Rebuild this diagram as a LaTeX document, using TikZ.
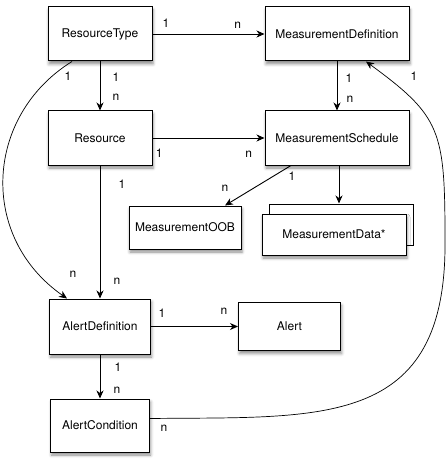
\documentclass[tikz,border=0pt]{standalone}
\usepackage{fontspec}
\setmainfont{TeX Gyre Heros}
\usetikzlibrary{arrows.meta,positioning,shadows,shadows.blur}
\tikzset{
  box/.style   = {draw=black, line width=1pt, fill=white, align=center,
                  inner sep=2pt, minimum height=54pt,
                  font=\fontsize{12}{14}\selectfont,
                  blur shadow={shadow xshift=1pt, shadow yshift=-3pt,
                               shadow blur radius=3pt, shadow opacity=45}},
  stack/.style = {copy shadow={shadow xshift=7pt, shadow yshift=10pt,
                  draw=black, line width=1pt, fill=white}},
  lab/.style   = {font=\fontsize{12}{14}\selectfont, inner sep=0pt},
  arr/.style   = {-{Stealth[length=8pt, width=7pt, inset=2.5pt]}, draw=black, line width=0.9pt},
  carr/.style  = {-{Stealth[length=8pt, width=7pt, inset=2.5pt]}, draw=black, line width=0.7pt},
}
\begin{document}
\begin{tikzpicture}
  \useasboundingbox (0,0) rectangle (447pt,-465pt);
  \node[box, minimum width=104pt] (rtype) at (100pt,-34pt) {ResourceType};
  \node[box, minimum width=144pt, right=112pt of rtype] (mdef) {MeasurementDefinition};
  \node[box, minimum width=104pt, below=49pt of rtype] (res) {Resource};
  \node[box, minimum width=144pt, right=112pt of res] (msched) {MeasurementSchedule};
  \node[box, minimum width=112pt, minimum height=43pt, below left=40pt and 23pt of msched.south west] (moob) {MeasurementOOB};
  \node[stack, box, minimum width=144pt, minimum height=41pt, below=48pt of msched, xshift=-3pt] (mdata) {MeasurementData*};
  \node[box, minimum width=101pt, minimum height=55pt, below=133pt of res] (adef) {AlertDefinition};
  \node[box, minimum width=102pt, minimum height=48pt, right=87pt of adef] (alert) {Alert};
  \node[box, minimum width=99pt, minimum height=53pt, below=44pt of adef] (acond) {AlertCondition};
  \coordinate (rbend) at (445pt,-240pt);
  \draw[arr] (rtype) -- (mdef)
    node[lab, pos=.12, yshift=11pt] {1}
    node[lab, pos=.76, yshift=9pt] {n};
  \draw[arr] (rtype) -- (res)
    node[lab, pos=.33, xshift=16pt] {1}
    node[lab, pos=.73, xshift=16pt] {n};
  \draw[arr] (res) -- (msched)
    node[lab, pos=.06, yshift=-15pt] {1}
    node[lab, pos=.86, yshift=-16pt] {n};
  \draw[arr] (mdef) -- (msched)
    node[lab, pos=.35, xshift=12pt] {1}
    node[lab, pos=.78, xshift=13pt] {n};
  \draw[arr] (res) -- (adef)
    node[lab, pos=.14, xshift=22pt] {1}
    node[lab, pos=.87, xshift=17pt] {n};
  \draw[arr] ([xshift=-46pt]msched.south) -- ([xshift=40pt]moob.north)
    node[lab, pos=0, xshift=1pt, yshift=-11pt] {1}
    node[lab, pos=1, yshift=17pt] {n};
  \draw[arr] ([xshift=2pt]msched.south) -- ([xshift=5pt, yshift=10pt]mdata.north);
  \draw[arr] (adef) -- (alert)
    node[lab, pos=.125, yshift=13pt] {1}
    node[lab, pos=.84, yshift=15pt] {n};
  \draw[arr] (adef) -- (acond)
    node[lab, pos=.3, xshift=18pt] {1}
    node[lab, pos=.82, xshift=17pt] {n};
  \draw[carr] ([xshift=-28pt]rtype.south) .. controls +(-87pt,-54pt) and +(-89pt,62pt) .. ([xshift=-33pt]adef.north)
    node[lab, pos=0, xshift=-4pt, yshift=-15pt] {1}
    node[lab, pos=1, xshift=6pt, yshift=24pt] {n};
  \draw[carr] ([yshift=7pt]acond.east) .. controls +(171pt,2pt) and +(2pt,-190pt) .. (rbend)
    node[lab, pos=0, xshift=14pt, yshift=-10pt] {n}
    .. controls +(0pt,110pt) and +(75pt,-55pt) .. ([xshift=29pt]mdef.south)
    node[lab, pos=1, xshift=48pt, yshift=-15pt] {1};
\end{tikzpicture}
\end{document}
